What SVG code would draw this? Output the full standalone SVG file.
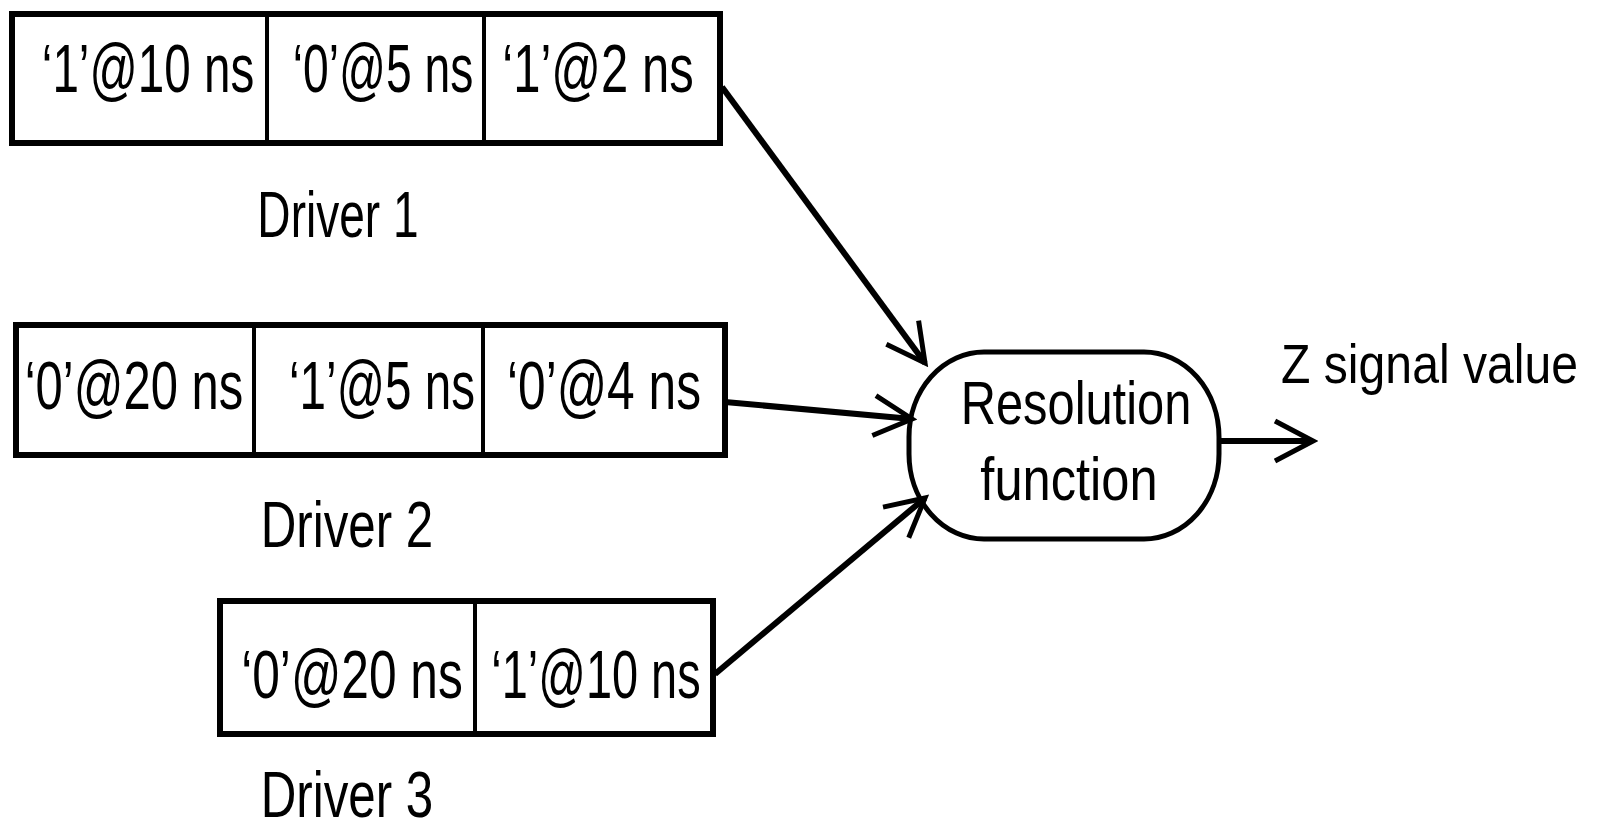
<svg xmlns="http://www.w3.org/2000/svg" width="1602" height="829" viewBox="0 0 1602 829">
<style>
.box{fill:#fff;stroke:#000;stroke-width:6}
.div{stroke:#000;stroke-width:4}
.t{font-family:"Liberation Sans",Arial,sans-serif;font-size:69px;fill:#000;text-anchor:middle}
.lbl{font-family:"Liberation Sans",Arial,sans-serif;font-size:64px;fill:#000;text-anchor:middle}
.conn{stroke:#000;stroke-width:6;fill:none}
</style>
<defs>
<marker id="ah" markerUnits="userSpaceOnUse" viewBox="-50 -25 55 50" markerWidth="55" markerHeight="50" refX="0" refY="0" orient="auto">
<path d="M-38,-20 L0,0 L-38,20" fill="none" stroke="#000" stroke-width="5"/>
</marker>
</defs>
<rect width="1602" height="829" fill="#fff"/>
<g id="driver1">
<rect class="box" x="12" y="14" width="708" height="129"/>
<line class="div" x1="267" y1="14" x2="267" y2="143"/>
<line class="div" x1="484" y1="14" x2="484" y2="143"/>
<text class="t" transform="translate(148,92) scale(0.69,1)">‘1’@10 ns</text>
<text class="t" transform="translate(383,92) scale(0.67,1)">‘0’@5 ns</text>
<text class="t" transform="translate(598,92) scale(0.71,1)">‘1’@2 ns</text>
<text class="lbl" transform="translate(338,237) scale(0.72,1)">Driver 1</text>
</g>
<g id="driver2">
<rect class="box" x="16" y="325" width="709" height="130"/>
<line class="div" x1="254" y1="325" x2="254" y2="455"/>
<line class="div" x1="483" y1="325" x2="483" y2="455"/>
<text class="t" transform="translate(134,409) scale(0.71,1)">‘0’@20 ns</text>
<text class="t" transform="translate(382,409) scale(0.69,1)">‘1’@5 ns</text>
<text class="t" transform="translate(604,409) scale(0.72,1)">‘0’@4 ns</text>
<text class="lbl" transform="translate(347,547) scale(0.77,1)">Driver 2</text>
</g>
<g id="driver3">
<rect class="box" x="220" y="601" width="493" height="133"/>
<line class="div" x1="475" y1="601" x2="475" y2="734"/>
<text class="t" transform="translate(352,698) scale(0.72,1)">‘0’@20 ns</text>
<text class="t" transform="translate(596,698) scale(0.68,1)">‘1’@10 ns</text>
<text class="lbl" transform="translate(347,817) scale(0.77,1)">Driver 3</text>
</g>
<g id="resolution">
<rect class="box" x="909" y="352" width="310" height="187" rx="75" ry="85" style="stroke-width:5"/>
<text class="lbl" transform="translate(1076,424) scale(0.8,1)" style="font-size:61px">Resolution</text>
<text class="lbl" transform="translate(1069,500) scale(0.83,1)" style="font-size:61px">function</text>
</g>
<g id="output">
<text class="lbl" transform="translate(1281,383) scale(0.86,1)" style="font-size:56px;text-anchor:start">Z signal value</text>
</g>
<g id="connectors">
<line class="conn" x1="722" y1="87" x2="925" y2="363" marker-end="url(#ah)"/>
<line class="conn" x1="725" y1="402" x2="912" y2="419" marker-end="url(#ah)"/>
<line class="conn" x1="715" y1="674" x2="925" y2="498" marker-end="url(#ah)"/>
<line class="conn" x1="1219" y1="441" x2="1313" y2="441" marker-end="url(#ah)"/>
</g>
</svg>
